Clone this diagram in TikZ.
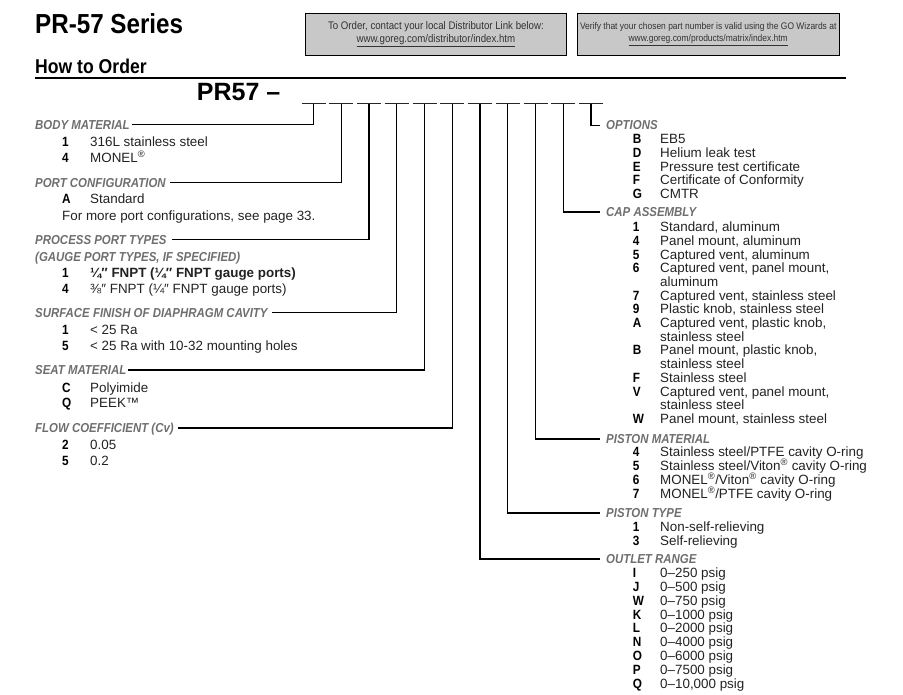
\documentclass[tikz,border=0pt]{standalone}
\usepackage{fontspec}
\setmainfont{Liberation Sans}
\newfontfamily\condfont[FakeStretch=0.88]{Liberation Sans}
\usetikzlibrary{positioning}
\definecolor{hdrgray}{HTML}{6E6E6E}
\definecolor{boxgray}{HTML}{C8C8C8}
\definecolor{txtgray}{HTML}{222222}
\newcommand{\regmark}{\textsuperscript{\textregistered}}

\begin{document}
\begin{tikzpicture}[x=1pt, y=-1pt,
  hdr/.style={anchor=base west, inner sep=0pt, text height=9.4pt, text depth=0pt,
              text=hdrgray, font=\condfont\bfseries\itshape\fontsize{13}{14}\selectfont},
  code/.style={anchor=base west, inner sep=0pt, font=\condfont\bfseries\fontsize{13.4}{15}\selectfont},
  desc/.style={anchor=base west, inner sep=0pt, text=txtgray, font=\fontsize{13.4}{15}\selectfont},
  linkbox/.style={draw=black, fill=boxgray, line width=0.8pt, minimum width=261.7pt,
                  minimum height=41.7pt, inner sep=0pt, align=center, text=black!80,
                  font=\condfont\fontsize{11}{12.6}\selectfont},
  conn/.style={line width=1.1pt},
  slotline/.style={line width=1pt, black!85}
]
  \useasboundingbox (0,0) rectangle (903,695);

  \node[anchor=base west, inner sep=0pt, font=\condfont\bfseries\fontsize{27.5}{30}\selectfont] (title) at (35,33.3) {PR-57 Series};
  \node[anchor=base west, inner sep=0pt, font=\condfont\bfseries\fontsize{20}{22}\selectfont] (howto) at (35,74) {How to Order};
  \draw[line width=1.2pt] (35,78) -- (846,78);
  \node[anchor=base west, inner sep=0pt, font=\bfseries\fontsize{25}{28}\selectfont] (pn) at (196.7,100.7) {PR57 –};

  \node[linkbox] (order) at (435.9,34.2) {To Order, contact your local Distributor Link below:\\\underline{www.goreg.com/distributor/index.htm}};
  \node[linkbox, font=\condfont\fontsize{9.6}{12.6}\selectfont] (verify) at (708.2,34.2) {Verify that your chosen part number is valid using the GO Wizards at\\\underline{www.goreg.com/products/matrix/index.htm}};

  \foreach \i in {1,...,11} {
    \coordinate (s\i) at ({313.5+27.75*(\i-1)},104);
    \draw[slotline] ([xshift=-12pt]s\i) -- ([xshift=12pt]s\i);
  }

  % left column
  \node[hdr] (bmH) at (35,129.5) {BODY MATERIAL};
  \foreach \y/\c/\d [count=\n] in {146.7/1/316L stainless steel, 162.7/4/{MONEL\regmark}} {
    \node[code] (bmC\n) at (62,\y) {\c};
    \node[desc] (bmD\n) at (90,\y) {\d};
  }
  \node[hdr] (pcH) at (35,187.3) {PORT CONFIGURATION};
  \node[code] (pcC1) at (62,204) {A};
  \node[desc] (pcD1) at (90,204) {Standard};
  \node[desc] (pcNote) at (62,220.7) {For more port configurations, see page 33.};
  \node[hdr] (ppH) at (35,244.3) {PROCESS PORT TYPES};
  \node[hdr, below right=7pt and 0pt of ppH.south west] (ppH2) {(GAUGE PORT TYPES, IF SPECIFIED)};
  \foreach \y/\c/\d [count=\n] in {277.7/1/{\bfseries ¼″ FNPT (¼″ FNPT gauge ports)}, 294/4/{⅜″ FNPT (¼″ FNPT gauge ports)}} {
    \node[code] (ppC\n) at (62,\y) {\c};
    \node[desc] (ppD\n) at (90,\y) {\d};
  }
  \node[hdr] (sfH) at (35,317.3) {SURFACE FINISH OF DIAPHRAGM CAVITY};
  \foreach \y/\c/\d [count=\n] in {334.7/1/{< 25 Ra}, 350.7/5/{< 25 Ra with 10-32 mounting holes}} {
    \node[code] (sfC\n) at (62,\y) {\c};
    \node[desc] (sfD\n) at (90,\y) {\d};
  }
  \node[hdr] (smH) at (35,374.7) {SEAT MATERIAL};
  \foreach \y/\c/\d [count=\n] in {392/C/Polyimide, 407.5/Q/PEEK™} {
    \node[code] (smC\n) at (62,\y) {\c};
    \node[desc] (smD\n) at (90,\y) {\d};
  }
  \node[hdr] (fcH) at (35,432.7) {FLOW COEFFICIENT (Cv)};
  \foreach \y/\c/\d [count=\n] in {449/2/0.05, 465.7/5/0.2} {
    \node[code] (fcC\n) at (62,\y) {\c};
    \node[desc] (fcD\n) at (90,\y) {\d};
  }

  % right column
  \node[hdr] (opH) at (606,130) {OPTIONS};
  \foreach \y/\c/\d [count=\n] in {144/B/EB5, 157.7/D/Helium leak test, 171.3/E/Pressure test certificate,
      185/F/Certificate of Conformity, 198.7/G/CMTR} {
    \node[code] (opC\n) at (632.7,\y) {\c};
    \node[desc] (opD\n) at (660,\y) {\d};
  }
  \node[hdr] (caH) at (606,216.7) {CAP ASSEMBLY};
  \foreach \y/\c/\d [count=\n] in {232/1/{Standard, aluminum}, 245.7/4/{Panel mount, aluminum},
      259.3/5/{Captured vent, aluminum}, 273/6/{Captured vent, panel mount,}, 286.6//aluminum,
      300.3/7/{Captured vent, stainless steel}, 314/9/{Plastic knob, stainless steel},
      327.6/A/{Captured vent, plastic knob,}, 341.3//stainless steel, 355/B/{Panel mount, plastic knob,},
      368.6//stainless steel, 382.3/F/Stainless steel, 396/V/{Captured vent, panel mount,},
      409.6//stainless steel, 423.3/W/{Panel mount, stainless steel}} {
    \node[code] (caC\n) at (632.7,\y) {\c};
    \node[desc] (caD\n) at (660,\y) {\d};
  }
  \node[hdr] (pmH) at (606,443.7) {PISTON MATERIAL};
  \foreach \y/\c/\d [count=\n] in {456.7/4/{Stainless steel/PTFE cavity O-ring},
      470.6/5/{Stainless steel/Viton\regmark{} cavity O-ring}, 484.6/6/{MONEL\regmark/Viton\regmark{} cavity O-ring},
      498.6/7/{MONEL\regmark/PTFE cavity O-ring}} {
    \node[code] (pmC\n) at (632.7,\y) {\c};
    \node[desc] (pmD\n) at (660,\y) {\d};
  }
  \node[hdr] (ptH) at (606,517.7) {PISTON TYPE};
  \foreach \y/\c/\d [count=\n] in {531/1/Non-self-relieving, 545/3/Self-relieving} {
    \node[code] (ptC\n) at (632.7,\y) {\c};
    \node[desc] (ptD\n) at (660,\y) {\d};
  }
  \node[hdr] (orH) at (606,563.7) {OUTLET RANGE};
  \foreach \y/\c/\d [count=\n] in {577.3/I/0–250 psig, 591.2/J/0–500 psig, 605.1/W/0–750 psig,
      619/K/0–1000 psig, 632.9/L/0–2000 psig, 646.8/N/0–4000 psig, 660.7/O/0–6000 psig,
      674.6/P/0–7500 psig, 688.5/Q/{0–10,000 psig}} {
    \node[code] (orC\n) at (632.7,\y) {\c};
    \node[desc] (orD\n) at (660,\y) {\d};
  }

  \draw[conn] ([xshift=2pt]bmH.east) -| (s1);
  \draw[conn] ([xshift=4pt]pcH.east) -| (s2);
  \draw[conn] ([xshift=5pt]ppH.east) -| (s3);
  \draw[conn] ([xshift=4pt]sfH.east) -| (s4);
  \draw[conn] ([xshift=2pt]smH.east) -| (s5);
  \draw[conn] ([xshift=4pt]fcH.east) -| (s6);
  \draw[conn] (s7) |- ([xshift=-6pt]orH.west);
  \draw[conn] (s8) |- ([xshift=-6pt]ptH.west);
  \draw[conn] (s9) |- ([xshift=-6pt]pmH.west);
  \draw[conn] (s10) |- ([xshift=-6pt]caH.west);
  \draw[conn] (s11) |- ([xshift=-6pt]opH.west);
\end{tikzpicture}
\end{document}
